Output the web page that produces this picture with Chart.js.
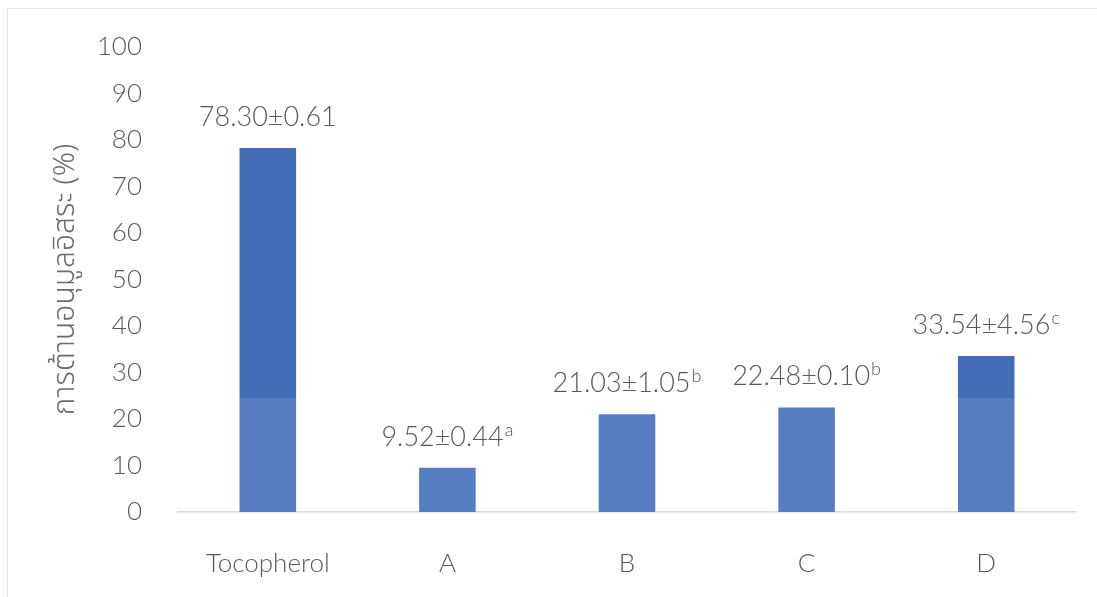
<!DOCTYPE html>
<html>
<head>
  <style>
    html, body {
      margin: 0;
      padding: 0;
      background: #ffffff;
    }

    .chart-container {
      position: relative;
      width: 1097px;
      height: 597px;
    }

    /* faint outline of the chart area, only top and left edges show */
    .frame {
      position: absolute;
      left: 7px;
      top: 8px;
      right: 0;
      bottom: 0;
      border-top: 1px solid #e4e4e4;
      border-left: 1px solid #e4e4e4;
      pointer-events: none;
    }
  </style>
  <script src="https://cdn.jsdelivr.net/npm/chart.js"></script>
</head>
<body>
  <div class="chart-container">
    <canvas id="antioxChart" width="1097" height="597"></canvas>
    <div class="frame"></div>
  </div>

  <script>
    const samples = ['Tocopherol', 'A', 'B', 'C', 'D'];
    const meanValues = [78.30, 9.52, 21.03, 22.48, 33.54];
    const sdValues = ['0.61', '0.44', '1.05', '0.10', '4.56'];
    const groupLetters = ['', 'a', 'b', 'b', 'c'];
    const yTitle = 'การต้านอนุมูลอิสระ (%)';

    const textColor = '#595959';
    const fontFamily = 'Lato, "Open Sans", "Noto Sans", sans-serif';
    const thaiFamily = '"Noto Sans Thai", "Noto Sans Thai Looped", Lato, sans-serif';

    document.addEventListener('DOMContentLoaded', function() {
      const ctx = document.getElementById('antioxChart').getContext('2d');

      // the upper part of the figure is printed a shade darker
      const barFill = ctx.createLinearGradient(0, 0, 0, 597);
      barFill.addColorStop(0, '#416cb6');
      barFill.addColorStop(398 / 597, '#416cb6');
      barFill.addColorStop(398 / 597, '#567cc2');
      barFill.addColorStop(1, '#567cc2');

      // mean ± sd above each bar, group letter as superscript
      const valueLabels = {
        id: 'valueLabels',
        afterDatasetsDraw(chart) {
          const c = chart.ctx;
          const meta = chart.getDatasetMeta(0);
          c.save();
          c.fillStyle = textColor;
          c.textBaseline = 'alphabetic';
          c.textAlign = 'left';
          meta.data.forEach((bar, i) => {
            const main = meanValues[i].toFixed(2) + '±' + sdValues[i];
            const sup = groupLetters[i];
            c.font = '300 27px ' + fontFamily;
            const w1 = c.measureText(main).width;
            c.font = '300 18px ' + fontFamily;
            const w2 = sup ? c.measureText(sup).width + 1 : 0;
            const x0 = bar.x - (w1 + w2) / 2;
            const y0 = bar.y - 22;
            c.font = '300 27px ' + fontFamily;
            c.fillText(main, x0, y0);
            if (sup) {
              c.font = '300 18px ' + fontFamily;
              c.fillText(sup, x0 + w1 + 1, y0 - 10);
            }
          });
          c.restore();
        }
      };

      const config = {
        type: 'bar',
        data: {
          labels: samples,
          datasets: [{
            data: meanValues,
            backgroundColor: barFill,
            borderWidth: 0,
            barPercentage: 0.315,
            categoryPercentage: 1.0
          }]
        },
        options: {
          responsive: false,
          animation: false,
          layout: {
            padding: { top: 47, right: 21, bottom: 0, left: 0 }
          },
          scales: {
            x: {
              grid: { display: false },
              border: { display: true, color: '#d9d9d9', width: 1.5 },
              ticks: {
                color: textColor,
                font: { family: fontFamily, size: 26, weight: 300 },
                padding: 28
              },
              afterFit(scale) { scale.height = 85; }
            },
            y: {
              min: 0,
              max: 100,
              grid: { display: false, drawTicks: false },
              border: { display: false },
              ticks: {
                stepSize: 10,
                color: textColor,
                font: { family: fontFamily, size: 26, weight: 300 },
                padding: 36
              },
              title: {
                display: true,
                text: yTitle,
                color: '#6b6b6b',
                font: { family: thaiFamily, size: 30, weight: 300 },
                padding: { top: 50, bottom: 0 }
              },
              afterFit(scale) {
                scale.width = 178;
                // tick padding is horizontal only here
                scale.paddingTop = 0;
                scale.paddingBottom = 0;
              }
            }
          },
          plugins: {
            legend: { display: false },
            tooltip: { enabled: false }
          }
        },
        plugins: [valueLabels]
      };

      new Chart(ctx, config);
    });
  </script>
</body>
</html>
